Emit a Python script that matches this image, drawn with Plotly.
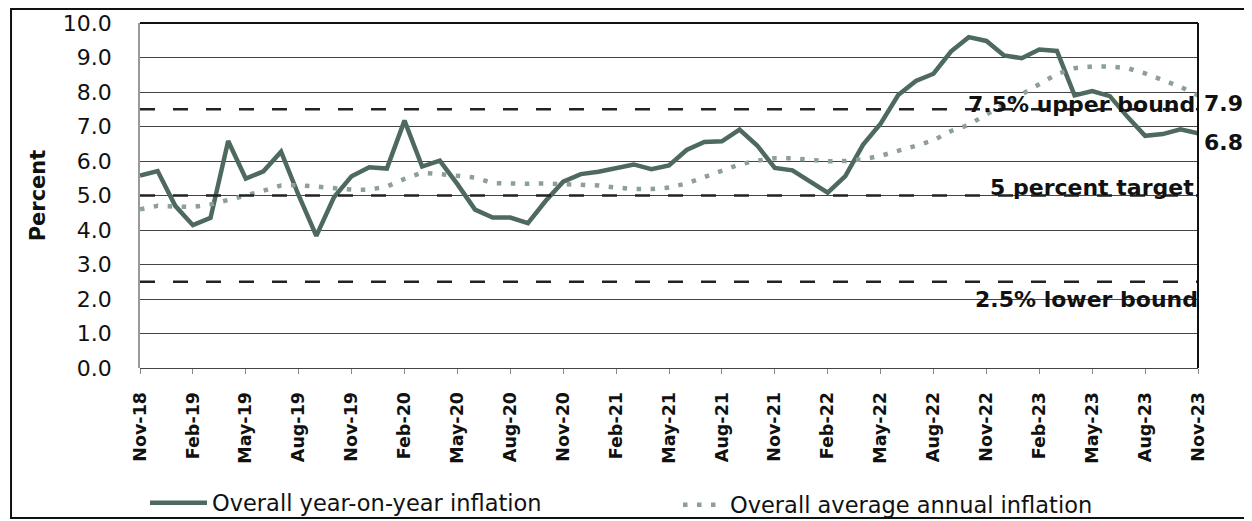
import plotly.graph_objects as go

months = ["Nov-18","Dec-18",
          "Jan-19","Feb-19","Mar-19","Apr-19","May-19","Jun-19","Jul-19","Aug-19","Sep-19","Oct-19","Nov-19","Dec-19",
          "Jan-20","Feb-20","Mar-20","Apr-20","May-20","Jun-20","Jul-20","Aug-20","Sep-20","Oct-20","Nov-20","Dec-20",
          "Jan-21","Feb-21","Mar-21","Apr-21","May-21","Jun-21","Jul-21","Aug-21","Sep-21","Oct-21","Nov-21","Dec-21",
          "Jan-22","Feb-22","Mar-22","Apr-22","May-22","Jun-22","Jul-22","Aug-22","Sep-22","Oct-22","Nov-22","Dec-22",
          "Jan-23","Feb-23","Mar-23","Apr-23","May-23","Jun-23","Jul-23","Aug-23","Sep-23","Oct-23","Nov-23"]

yoy = [5.58,5.71,
       4.70,4.14,4.35,6.58,5.49,5.70,6.27,5.00,3.83,4.95,5.56,5.82,
       5.78,7.17,5.84,6.01,5.33,4.59,4.36,4.36,4.20,4.84,5.40,5.62,
       5.69,5.78,5.90,5.76,5.87,6.32,6.55,6.57,6.91,6.45,5.80,5.73,
       5.39,5.08,5.56,6.47,7.08,7.91,8.32,8.53,9.18,9.59,9.48,9.06,
       8.98,9.23,9.19,7.90,8.03,7.88,7.28,6.73,6.78,6.92,6.80]

avg = [4.60,4.70,
       4.68,4.67,4.74,4.86,5.00,5.14,5.29,5.30,5.25,5.20,5.17,5.17,
       5.26,5.48,5.66,5.62,5.58,5.52,5.36,5.34,5.34,5.35,5.34,5.31,
       5.29,5.23,5.19,5.19,5.23,5.35,5.53,5.70,5.90,6.01,6.08,6.08,
       6.04,5.99,6.00,6.05,6.15,6.28,6.44,6.60,6.87,7.05,7.36,7.65,
       7.93,8.23,8.52,8.69,8.74,8.74,8.69,8.54,8.36,8.15,7.90]

tick_labels = ["Nov-18","Feb-19","May-19","Aug-19","Nov-19","Feb-20","May-20","Aug-20","Nov-20",
               "Feb-21","May-21","Aug-21","Nov-21","Feb-22","May-22","Aug-22","Nov-22","Feb-23",
               "May-23","Aug-23","Nov-23"]
y_ticks = [0,1,2,3,4,5,6,7,8,9,10]
bounds = [7.5, 5.0, 2.5]

x = list(range(len(months)))
tick_pos = [months.index(t) for t in tick_labels]

FONT = "DejaVu Sans"

fig = go.Figure()
fig.add_trace(go.Scatter(x=x, y=yoy, mode="lines", name="Overall year-on-year inflation",
                         line=dict(color="#4e6a5e", width=4.5), legend="legend"))
fig.add_trace(go.Scatter(x=x, y=avg, mode="lines", name="Overall average annual inflation",
                         line=dict(color="#8e9e98", width=4.5, dash="4.5px,9.5px"), legend="legend2"))

shapes = []
for b in bounds:
    shapes.append(dict(type="line", xref="x", yref="y", x0=0, x1=len(months)-1, y0=b, y1=b,
                       line=dict(color="#222222", width=2.5, dash="15px,18px"), layer="above"))
# top and right plot borders
shapes.append(dict(type="line", xref="paper", yref="paper", x0=0, x1=1, y0=1, y1=1,
                   line=dict(color="#111111", width=2)))
shapes.append(dict(type="line", xref="paper", yref="paper", x0=1, x1=1, y0=0, y1=1,
                   line=dict(color="#111111", width=2)))
# outer frame
shapes.append(dict(type="rect", xref="paper", yref="paper", x0=-0.1219, x1=1.0463, y0=-0.4348, y1=1.0406,
                   line=dict(color="#111111", width=2)))
fig.update_layout(shapes=shapes)

ann_font = dict(family=FONT, size=22, color="#111111", weight="bold")
annotations = [
    dict(x=len(months)-1, y=7.65, text="7.5% upper bound", xanchor="right", xshift=-1),
    dict(x=len(months)-1, y=5.22, text="5 percent target", xanchor="right", xshift=-2),
    dict(x=len(months)-1, y=2.0, text="2.5% lower bound", xanchor="right", xshift=2),
    dict(x=len(months)-1, y=7.66, text="7.9", xanchor="left", xshift=4),
    dict(x=len(months)-1, y=6.53, text="6.8", xanchor="left", xshift=4),
]
for a in annotations:
    a.update(xref="x", yref="y", showarrow=False, yanchor="middle", font=ann_font)
fig.update_layout(annotations=annotations)

leg_font = dict(family=FONT, size=22.5, color="#111111")
# page body has an 8px margin, so the figure is 8px smaller and shifted
fig.update_layout(
    width=1244, height=513,
    margin=dict(l=132, r=54, t=15, b=153, autoexpand=False),
    paper_bgcolor="white", plot_bgcolor="white",
    font=dict(family=FONT, color="#111111"),
    showlegend=True,
    legend=dict(orientation="h", x=(145 - 140) / 1058, y=(368 - 503) / 345, xanchor="left", yanchor="middle",
                font=leg_font, bgcolor="rgba(0,0,0,0)", itemwidth=57),
    legend2=dict(orientation="h", x=(678 - 140) / 1058, y=(368 - 505) / 345, xanchor="left", yanchor="middle",
                 font=leg_font, bgcolor="rgba(0,0,0,0)", itemwidth=42),
    xaxis=dict(range=[0, len(months)-1], tickmode="array", tickvals=tick_pos, ticktext=tick_labels,
               tickangle=-90, ticks="outside", ticklen=5, tickcolor="#888888", ticklabelstandoff=11,
               tickfont=dict(family=FONT, size=17.5, color="#111111", weight="bold"),
               showgrid=False, zeroline=False, showline=False),
    yaxis=dict(range=[0, 10], tickmode="array", tickvals=y_ticks, tickformat=".1f",
               tickfont=dict(family=FONT, size=22, color="#111111"),
               ticks="", ticklabelstandoff=22,
               showgrid=True, gridcolor="#444444", gridwidth=1,
               zeroline=True, zerolinecolor="#444444", zerolinewidth=1,
               showline=True, linecolor="#999999", linewidth=1.5,
               title=dict(text="Percent", font=dict(family=FONT, size=21, color="#111111", weight="bold"),
                          standoff=12)),
)

fig.write_html("out.html")
